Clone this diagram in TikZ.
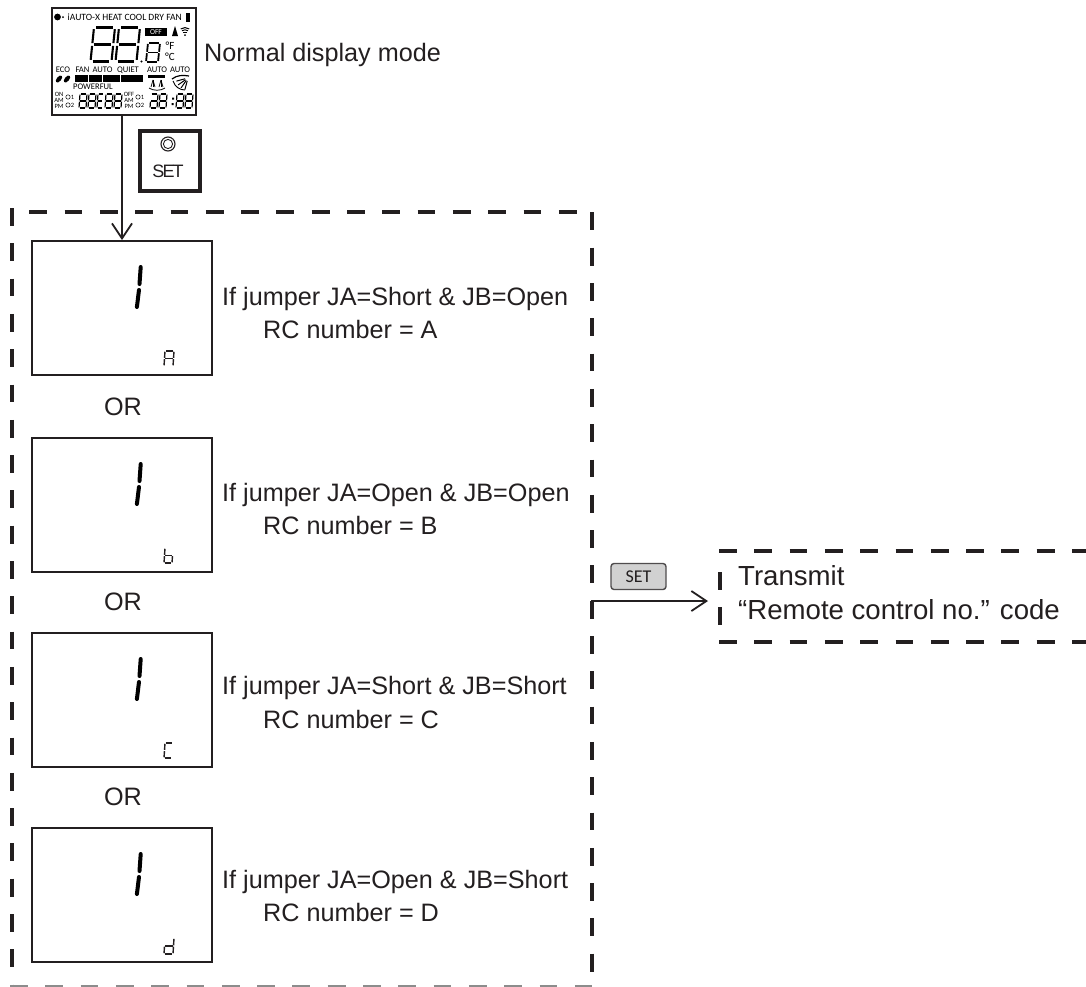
\documentclass[tikz,border=0pt]{standalone}
\usepackage{fontspec}
\setmainfont{Liberation Sans}
\newfontfamily\lcdfont{Carlito}
\usetikzlibrary{arrows.meta}
\definecolor{ink}{HTML}{231F20}
\def\sega{(.1,0)--(.9,0)}
\def\segb{(1,.05)--(1,.46)}
\def\segc{(1,.54)--(1,.95)}
\def\segd{(.1,1)--(.9,1)}
\def\sege{(0,.54)--(0,.95)}
\def\segf{(0,.05)--(0,.46)}
\def\segg{(.1,.5)--(.9,.5)}
% x y width height slant style segments
\newcommand{\lcddigit}[7]{%
  \begin{scope}[shift={(#1,#2)},x={(#3pt,0pt)},y={(-#5pt,-#4pt)}]
    \foreach \q in {#7}{\draw[#6] \csname seg\q\endcsname;}
  \end{scope}}
\newcommand{\bigone}[1]{%
  \draw[oneseg] (140.7,#1+27) -- (139.5,#1+44);
  \draw[oneseg] (139,#1+50) -- (136.9,#1+67);}
\tikzset{
  txt/.style={inner sep=0pt,text=ink,font=\fontsize{25.2}{30}\selectfont},
  txtb/.style={inner sep=0pt,text=ink,font=\fontsize{27.6}{33}\selectfont},
  dashln/.style={draw=ink,line width=3.3pt,dash pattern=on 17.8pt off 17.5pt},
  dashlt/.style={draw=black!45,line width=2pt,dash pattern=on 17.8pt off 17.5pt},
  dispbox/.style={draw=ink,line width=1.8pt,minimum width=180pt,minimum height=134pt,inner sep=0pt,anchor=north west},
  conn/.style={draw=ink,line width=2.9pt,-{Straight Barb[length=15pt,width=20pt,line width=1.8pt]}},
  oneseg/.style={draw=black,line width=4pt,line cap=round},
  tinyseg/.style={draw=ink,line width=1.4pt},
  bigseg/.style={draw=black,line width=2.1pt},
  midseg/.style={draw=black,line width=1.8pt},
  smallseg/.style={draw=black,line width=1.2pt},
  lt/.style={inner sep=0pt,text=black,font=\lcdfont\fontsize{9.6}{9.6}\selectfont},
  lts/.style={inner sep=0pt,text=black,font=\lcdfont\fontsize{8.6}{8.6}\selectfont},
  ltt/.style={inner sep=0pt,text=black,font=\lcdfont\fontsize{6.5}{6.5}\selectfont},
}
\begin{document}
\begin{tikzpicture}[x=1pt,y=-1pt]
\useasboundingbox (0,0) rectangle (1086,986);
\fill[white] (0,0) rectangle (1086,986);

% LCD panel
\node[draw=ink,line width=1.7pt,minimum width=144pt,minimum height=107pt,inner sep=0pt,anchor=north west] (lcd) at (51,7) {};
\fill[black] (57.5,17) circle (3.4pt);
\fill[black] (63,17) circle (1pt);
\node[lt,anchor=west] (ltop) at (67.5,17) {iAUTO-X HEAT COOL DRY FAN};
\fill[black] (186,13) rectangle (190,22);
\lcddigit{94}{27.5}{21}{34}{3.5}{bigseg}{a,b,c,d,e,f,g}
\lcddigit{119}{27.5}{21}{34}{3.5}{bigseg}{a,b,c,d,e,f,g}
\fill[black] (141.5,61.5) circle (1.2pt);
\lcddigit{148}{43}{12}{19}{2}{midseg}{a,b,c,d,e,f,g}
\node[fill=black,text=white,inner sep=0pt,minimum width=22pt,minimum height=8pt,font=\lcdfont\fontsize{7.5}{7.5}\selectfont] (off) at (156,32) {OFF};
\fill[black] (175,26) -- (178,36) -- (172,36) -- cycle;
\foreach \r in {3,5.2,7.4}{\draw[black,line width=1pt] (185,35)+(-55:\r) arc[start angle=-55,end angle=-125,radius=\r];}
\fill[black] (185,35) circle (1pt);
\node[lt,font=\lcdfont\fontsize{11}{11}\selectfont] (fdeg) at (170,46) {°F};
\node[lt,font=\lcdfont\fontsize{11}{11}\selectfont] (cdeg) at (170,57) {°C};
\node[lts] (eco) at (63,70) {ECO};
\node[lts] (fan) at (82.5,70) {FAN};
\node[lts] (aut) at (102.5,70) {AUTO};
\node[lts] (qui) at (128,70) {QUIET};
\node[lts] (au2) at (157,70) {AUTO};
\node[lts] (au3) at (180,70) {AUTO};
\foreach \x in {59,67}{\fill[black,rotate around={-40:(\x,79)}] (\x,79) ellipse (2.2pt and 4.2pt);}
\fill[black] (75,75) rectangle (143,82);
\foreach \x in {88,102,120}{\draw[white,line width=.8pt] (\x,75) -- (\x,82);}
\node[lts] (pow) at (93,87) {POWERFUL};
\fill[black] (148,75) rectangle (165,78);
\foreach \x/\d in {153/-2,153/0,153/2,161/-2,161/0,161/2}{\draw[black,line width=.7pt] (\x,80) -- (\x+\d,87);}
\draw[black,line width=.8pt] (149,88) .. controls (153,91) and (161,91) .. (165,88);
\draw[black,line width=1.2pt] (172,79) .. controls (177,75) and (183,75) .. (189,76);
\draw[black,line width=.9pt] (173,81) .. controls (175,87) and (180,90) .. (185,90);
\foreach \a in {105,125,145,165}{\draw[black,line width=1pt] (188,78)++(\a:3) -- ++(\a:9);}
\node[ltt] (on) at (59,94) {ON};
\node[ltt] (am) at (59,100) {AM};
\node[ltt] (pm) at (59,106) {PM};
\foreach \y/\n in {97/1,105/2}{
  \draw[black,line width=.5pt] (68,\y) circle (2.2pt);
  \node[ltt] at (72.5,\y) {\n};
}
\lcddigit{80}{94}{7}{14}{1}{smallseg}{a,b,c,d,e,f,g}
\lcddigit{89}{94}{7}{14}{1}{smallseg}{a,b,c,d,e,f,g}
\lcddigit{98}{94}{5}{14}{1}{smallseg}{a,d,e,f,g}
\lcddigit{106}{94}{7}{14}{1}{smallseg}{a,b,c,d,e,f,g}
\lcddigit{115}{94}{7}{14}{1}{smallseg}{a,b,c,d,e,f,g}
\node[ltt] (off2) at (129,94) {OFF};
\node[ltt] (am2) at (129,100) {AM};
\node[ltt] (pm2) at (129,106) {PM};
\foreach \y/\n in {97/1,105/2}{
  \draw[black,line width=.5pt] (138,\y) circle (2.2pt);
  \node[ltt] at (142.5,\y) {\n};
}
\lcddigit{151}{94}{7}{14}{1}{smallseg}{a,d,e,g,b,c}
\lcddigit{160}{94}{7}{14}{1}{smallseg}{a,b,c,d,e,f,g}
\fill[black] (172,97.5) rectangle (174,99.5) (171.5,103) rectangle (173.5,105);
\lcddigit{177}{94}{7}{14}{1}{smallseg}{a,b,c,d,e,f,g}
\lcddigit{186}{94}{7}{14}{1}{smallseg}{a,b,c,d,e,f,g}

\node[txt,anchor=base west] (normal) at (204,61) {Normal display mode};

% SET key
\node[draw=ink,line width=3.8pt,minimum width=60pt,minimum height=60pt,inner sep=0pt,anchor=north west] (setkey) at (138,129) {};
\draw[ink,line width=1.1pt] (168,144) circle (7pt);
\draw[ink,line width=.9pt] (168,144) circle (4.6pt);
\node[inner sep=0pt,text=ink,font=\fontsize{18}{18}\selectfont] (setlab) at (168,171) {S\kern-1.8pt E\kern-1.8pt T};

% Display boxes
\node[dispbox] (boxa) at (31,240) {};
\node[dispbox] (boxb) at (31,437) {};
\node[dispbox] (boxc) at (31,632) {};
\node[dispbox] (boxd) at (31,827) {};
\bigone{240}\bigone{437}\bigone{632}\bigone{827}
\lcddigit{165}{351}{9}{15}{1}{tinyseg}{a,b,c,e,f,g}
\lcddigit{165}{548}{8}{15}{1}{tinyseg}{c,d,e,f,g}
\lcddigit{165}{743}{8}{15}{1}{tinyseg}{a,d,e,f}
\lcddigit{165}{938}{9}{16}{1}{tinyseg}{b,c,d,e,g}

% Texts
\node[txt,anchor=base west] (ta1) at (222,305.5) {If jumper JA=Short \& JB=Open};
\node[txt,anchor=base west] (ta2) at (263,338) {RC number = A};
\node[txt,anchor=base west] (tb1) at (222,501) {If jumper JA=Open \& JB=Open};
\node[txt,anchor=base west] (tb2) at (263,534.5) {RC number = B};
\node[txt,anchor=base west] (tc1) at (222,694.3) {If jumper JA=Short \& JB=Short};
\node[txt,anchor=base west] (tc2) at (263,728.3) {RC number = C};
\node[txt,anchor=base west] (td1) at (222,888) {If jumper JA=Open \& JB=Short};
\node[txt,anchor=base west] (td2) at (263,921.7) {RC number = D};
\node[txt,anchor=base] (or1) at (123,415) {OR};
\node[txt,anchor=base] (or2) at (123,610) {OR};
\node[txt,anchor=base] (or3) at (123,805) {OR};

% Main dashed frame
\coordinate (mtl) at (29.3,212);
\coordinate (mtr) at (590,212);
\coordinate (mlt) at (12,208);
\coordinate (mlb) at (12,990);
\coordinate (mrt) at (592,212.4);
\coordinate (mrb) at (592,980);
\coordinate (mbl) at (10,986);
\coordinate (mbr) at (592,986);
\draw[dashln] (mtl) -- (mtr);
\draw[dashln] (mlt) -- (mlb);
\draw[dashln] (mrt) -- (mrb);
\draw[dashlt] (mbl) -- (mbr);

% Transmit dashed frame
\coordinate (ttl) at (719,551);
\coordinate (ttr) at (1086,551);
\coordinate (tbl) at (719,642);
\coordinate (tbr) at (1086,642);
\coordinate (tlt) at (720,572);
\coordinate (tlb) at (720,625);
\draw[dashln] (ttl) -- (ttr);
\draw[dashln] (tbl) -- (tbr);
\draw[dashln] (tlt) -- (tlb);
\node[txtb,anchor=base west] (tx1) at (738,585) {Transmit};
\node[txtb,anchor=base west] (tx2) at (738,619) {“Remote control no.” code};

% SET button
\node[draw=ink!80,line width=1.4pt,fill=black!18,rounded corners=3pt,minimum width=55pt,minimum height=26pt,inner sep=0pt,text=ink,font=\lcdfont\fontsize{18}{18}\selectfont] (setbtn) at (638.5,576.5) {SET};

% Connectors
\draw[conn] (lcd.south -| 122,0) -- (122,0 |- boxa.north);
\coordinate (outa) at (592,617);
\coordinate (outb) at (592,601);
\coordinate (inb) at (708,601);
\draw[conn] (outa) -- (outb) -- (inb);
\end{tikzpicture}
\end{document}
